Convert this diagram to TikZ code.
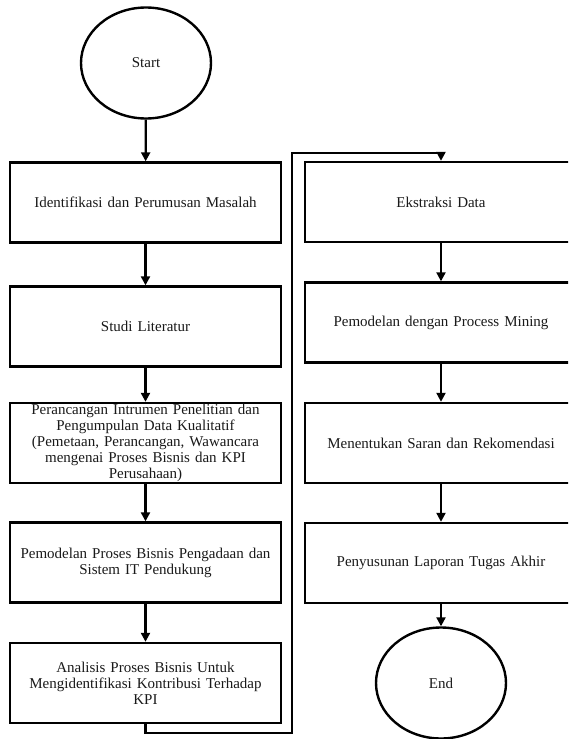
\documentclass[tikz,border=0pt]{standalone}
\usepackage{fontspec}
\setmainfont{Liberation Serif}
\usetikzlibrary{shapes.geometric,arrows.meta}
\begin{document}
\begin{tikzpicture}[x=1pt,y=-1pt,
  every node/.style={font=\fontsize{15}{16}\selectfont, text=black!90},
  stepbox/.style={draw, line width=2.4pt, minimum height=80pt, align=center, inner sep=0pt},
  leftbox/.style={stepbox, minimum width=271pt, text width=262pt},
  rightbox/.style={stepbox, minimum width=272pt, text width=262pt},
  terminal/.style={draw, ellipse, line width=2.4pt, minimum width=130pt, minimum height=111pt, inner sep=0pt},
  flow/.style={line width=2.2pt, -{Triangle[width=9pt,length=9pt]}}]
\useasboundingbox (0,0) rectangle (568,739);
\begin{scope}
\clip (0,0) rectangle (568,739);
% left column
\node[terminal] (start) at (146,63) {Start};
\node[leftbox] (b1) at (145.5,202.5) {Identifikasi dan Perumusan Masalah};
\node[leftbox] (b2) at (145.5,326.5) {Studi Literatur};
\node[leftbox] (b3) at (145.5,443) {Perancangan Intrumen Penelitian dan\\Pengumpulan Data Kualitatif\\(Pemetaan, Perancangan, Wawancara\\mengenai Proses Bisnis dan KPI\\Perusahaan)};
\node[leftbox] (b4) at (145.5,562.5) {Pemodelan Proses Bisnis Pengadaan dan\\Sistem IT Pendukung};
\node[leftbox] (b5) at (145.5,683) {Analisis Proses Bisnis Untuk\\Mengidentifikasi Kontribusi Terhadap\\KPI};
% right column
\node[rightbox] (e1) at (441,202) {Ekstraksi Data};
\node[rightbox] (e2) at (441,322.5) {Pemodelan dengan Process Mining};
\node[rightbox] (e3) at (441,443) {Menentukan Saran dan Rekomendasi};
\node[rightbox] (e4) at (441,563) {Penyusunan Laporan Tugas Akhir};
\node[terminal] (end) at (441,683) {End};
% connectors
\draw[flow] (start) -- (b1);
\draw[flow] (b1) -- (b2);
\draw[flow] (b2) -- (b3);
\draw[flow] (b3) -- (b4);
\draw[flow] (b4) -- (b5);
\coordinate (lo) at (292,733);
\coordinate (hi) at (292,153);
\draw[flow] (b5.south) |- (lo) -- (hi) -| (e1.north);
\draw[flow] (e1) -- (e2);
\draw[flow] (e2) -- (e3);
\draw[flow] (e3) -- (e4);
\draw[flow] (e4) -- (end);
\end{scope}
\end{tikzpicture}
\end{document}
